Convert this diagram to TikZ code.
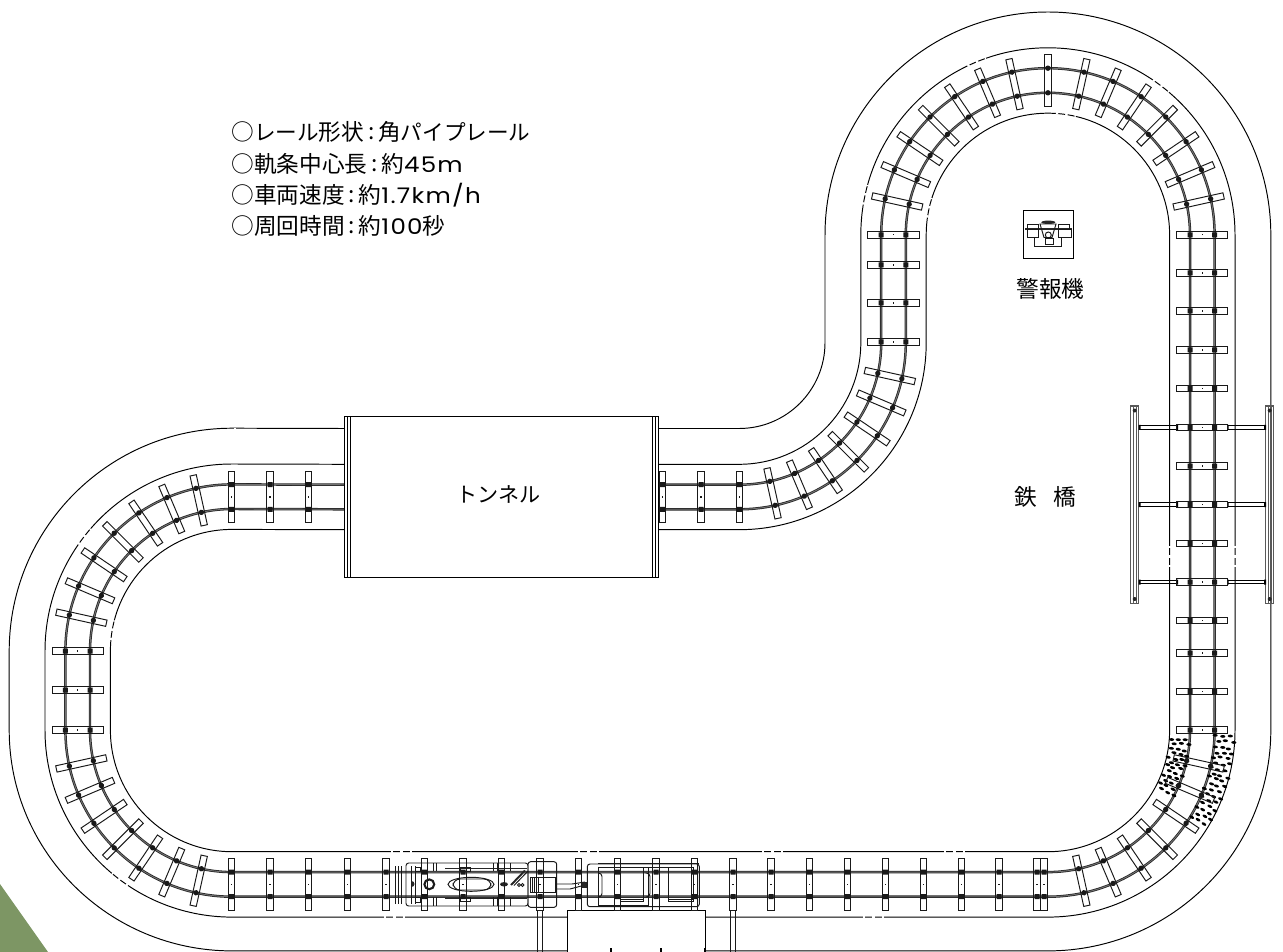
\documentclass[tikz,border=0pt]{standalone}
\usepackage{fontspec}
\setmainfont{Noto Sans CJK JP}
\newfontfamily\latinfont[FakeStretch=1.14,LetterSpace=6,Scale=.95]{Poppins}
\tikzset{
  bedline/.style={draw=black,line width=.55pt},
  railline/.style={draw=black!85,line width=.45pt,double=black!55,double distance=.5pt},
  tiebox/.style={draw=black!90,line width=.55pt},
  pinmark/.style={fill=black!90},
  gapline/.style={draw=white,line width=1.4pt,dash pattern=on 1.3pt off 4pt on 1.4pt off 4pt on 1.3pt},
  carline/.style={draw=black!90,line width=.55pt},
  carheavy/.style={draw=black!85,line width=1.1pt},
  beamline/.style={draw=black,line width=.55pt},
  postline/.style={draw=black!65,line width=.8pt},
  labeltext/.style={font=\fontsize{12.9pt}{15pt}\selectfont,inner sep=0pt}
}
\newcommand\kanatext[1]{{\fontsize{12.3pt}{15pt}\selectfont #1}}
\newcommand\specsep{\makebox[8pt]{\raisebox{.5pt}{:}}}
\newcommand\trackloop[3]{
  \draw[#1] (658,{497-(#2)}) -- (739.1,{497-(#2)})
    arc [start angle=90,end angle=0,radius={154.4-(#2)}]
    -- ({893.5-(#2)},234.9)
    arc [start angle=180,end angle=360,radius={154.4+(#2)}]
    -- ({1202.3+(#2)},730)
    arc [start angle=0,end angle=90,x radius={154.4+(#2)},y radius={154.4+(#3)}]
    -- (232.1,{884.4+(#3)})
    arc [start angle=90,end angle=180,x radius={154.4+(#2)},y radius={154.4+(#3)}]
    -- ({77.7-(#2)},651.1)
    arc [start angle=180,end angle=270,radius={154.4+(#2)}]
    -- (345,{497-(#2)});
}
\newcommand\tiemark[3]{
  \begin{scope}[shift={(#1,#2)},rotate=#3]
    \draw[tiebox] (-25.6,-3.2) rectangle (25.6,3.2);
    \fill[pinmark] (-14.8,-2.5) rectangle (-9.8,2.5) (9.8,-2.5) rectangle (14.8,2.5);
    \fill[pinmark] (-.6,-.6) rectangle (.6,.6);
  \end{scope}
}
\newcommand\arctie[3]{
  \begin{scope}[shift={(#1,#2)},rotate=#3]
    \draw[tiebox] (128.8,-3.2) rectangle (180,3.2);
    \fill[pinmark] (142.1,0) circle [radius=2.7] (166.7,0) circle [radius=2.7];
  \end{scope}
}
\newcommand\bedgap[4]{
  \draw[gapline,shift={(#1,#2)},rotate=#4] (#3,-10) -- (#3,10);
}
\begin{document}
\begin{tikzpicture}[x=.02cm,y=.02cm,yscale=-1]
  \useasboundingbox (0,0) rectangle (1283,952);
  \fill[fill={rgb,255:red,125;green,150;blue,100}] (0,884) -- (48,952) -- (0,952) -- cycle;

  \trackloop{bedline}{68.5}{66.5}
  \trackloop{bedline}{32.7}{32.7}
  \trackloop{bedline}{-32.7}{-32.7}
  \trackloop{railline}{12.3}{12.3}
  \trackloop{railline}{-12.3}{-12.3}

  \bedgap{1047.9}{234.9}{187.1}{247.6}
  \bedgap{1047.9}{234.9}{187.1}{307.2}
  \bedgap{1047.9}{234.9}{187.1}{192.4}
  \bedgap{1047.9}{234.9}{121.7}{278.5}
  \bedgap{1047.9}{234.9}{121.7}{192.9}
  \bedgap{232.1}{730}{187.1}{126.9}
  \bedgap{232.1}{651.1}{187.1}{217.8}
  \bedgap{232.1}{651.1}{121.7}{189.9}
  \draw[gapline] (1169.6,546) -- (1169.6,569);
  \draw[gapline] (1235,546) -- (1235,569);
  \draw[gapline] (762,851.7) -- (785,851.7);
  \draw[gapline] (944,851.7) -- (967,851.7);
  \draw[gapline] (863,917.1) -- (886,917.1);
  \draw[gapline] (391,851.7) -- (414,851.7);
  \draw[gapline] (578,851.7) -- (601,851.7);
  \draw[gapline] (384,917.1) -- (407,917.1);
  \draw[draw=white,line width=1pt] (234,428.5) -- (236,428.5);

  \pgfmathsetseed{11}
  \foreach \a in {0,...,11} {
    \foreach \r in {126,133,140} {
      \pgfmathsetmacro\da{4+2.1*\a+.6*rand}
      \pgfmathsetmacro\dr{\r+3.5*mod(\a,2)-2+rand}
      \fill[black,shift={(1047.9,730)},rotate=\da] (\dr,0) ellipse [x radius=2.6,y radius=1.4];
    }
  }
  \foreach \a in {0,...,16} {
    \foreach \r in {170,177,184} {
      \pgfmathsetmacro\da{2+1.8*\a+.5*rand}
      \pgfmathsetmacro\dr{\r+3.5*mod(\a,2)-2+rand}
      \fill[black,shift={(1047.9,730)},rotate=\da] (\dr,0) ellipse [x radius=2.6,y radius=1.4];
    }
  }

  \draw[postline] (1130.7,406) rectangle (1138.7,603.3) (1133.2,406) -- (1133.2,603.3) (1136.2,406) -- (1136.2,603.3);
  \draw[postline] (1265.7,406) rectangle (1273.7,603.3) (1268.2,406) -- (1268.2,603.3) (1271.2,406) -- (1271.2,603.3);
  \foreach \by in {410.5,599} {
    \fill[black!85] (1134.7,\by) circle [radius=2];
    \fill[black!85] (1269.7,\by) circle [radius=2];
  }
  \foreach \by in {427.3,504.7,582} {
    \draw[beamline] (1138.7,\by-1.8) -- (1176.7,\by-1.8) (1138.7,\by+1.8) -- (1176.7,\by+1.8);
    \draw[beamline] (1228,\by-1.8) -- (1266,\by-1.8) (1228,\by+1.8) -- (1266,\by+1.8);
    \fill[black] (1138.7,\by-2.5) rectangle (1140.7,\by+2.5) (1264,\by-2.5) rectangle (1266,\by+2.5);
    \fill[black] (1176.5,\by-2.5) rectangle (1178,\by+2.5) (1227,\by-2.5) rectangle (1228.5,\by+2.5);
  }

  \draw[carline] (395.7,866) -- (395.7,904) (398,866) -- (398,904) (401,866) -- (401,904);
  \draw[carline,rounded corners=1.5] (406,863) rectangle (528,906);
  \draw[carline] (411,866) -- (411,904) (415,866) -- (415,904) (415,867) rectangle (420,871) (415,897) rectangle (420,902);
  \fill[black!85] (411.5,881) arc [start angle=270,end angle=450,radius=3];
  \draw[carline] (433,863) -- (433,871) (436,863) -- (436,871) (433,897) -- (433,906) (436,897) -- (436,906);
  \draw[carline] (429.3,884.3) circle [radius=5.5] (429.3,884.3) circle [radius=4.3];
  \draw[carline] (471,884.3) ellipse [x radius=23,y radius=7];
  \draw[carline,rounded corners=4] (453,879) rectangle (491,890);
  \draw[carheavy] (445,868.5) -- (527,868.5) (445,898.5) -- (527,898.5);
  \draw[carline] (460,867) rectangle (470,871) (460,897) rectangle (470,901);
  \draw[carline] (493,863) -- (493,871) (497,863) -- (497,871) (510,863) -- (510,871) (493,897) -- (493,906) (497,897) -- (497,906) (510,897) -- (510,906);
  \fill[black!85] (504,884.3) ellipse [x radius=4,y radius=2.2];
  \draw[carheavy] (511,885) -- (525,870.5);
  \draw[carline] (514,885.5) -- (528,871);
  \draw[carline] (519,885) circle [radius=1.5] (522.5,885) circle [radius=1.5];
  \draw[carline,rounded corners=1.5] (528,861.7) rectangle (556.7,907.3);
  \draw[carline] (530,877) rectangle (555,892);
  \foreach \hx in {532,534,536,538}
    \draw[carline] (\hx,877) -- (\hx,892);
  \draw[carline] (556.7,884) -- (572,884) -- (585,882) (556.7,889) -- (570,889) -- (585,885);
  \fill[black!85] (582,882) rectangle (587,888);
  \draw[carline,rounded corners=1.5] (587.3,864) rectangle (699.3,906.7);
  \draw[carline] (598,863.5) -- (699,863.5) (598,867.7) rectangle (648,905);
  \draw[carline] (620,867.7) rectangle (643,901.7) (620,899) -- (643,899);
  \draw[carline] (648,867.7) -- (693,867.7) (668,867.7) rectangle (693,901.7) (668,899) -- (693,899);
  \draw[carline,rounded corners=2] (598,873) -- (602,873) -- (602,897) -- (598,897);
  \draw[carline,rounded corners=2] (647,873) -- (650,873) -- (650,897) -- (647,897);

  \foreach \bx in {537.3,542,730.7,735}
    \draw[carline] (\bx,910) -- (\bx,952);
  \draw[bedline,fill=white] (567.3,952) -- (567.3,910) -- (705,910) -- (705,952);
  \foreach \bx in {567.3,611,661,705}
    \draw[draw=black,line width=.8pt] (\bx,948) -- (\bx,952);

  \foreach \tx in {231.7,270,308.7,347.3,386,424.3,463,501.7,540,578.7,617.3,656,694.3,733,771,809.7,847.5,885.5,923.7,961.5,999,1037,1044} {
    \tiemark{\tx}{884.4}{90}
  }
  \foreach \tx in {231.7,270,308.7,662.3,701,739.7} {
    \tiemark{\tx}{497}{90}
  }
  \foreach \ty in {234.9,273,311,350,388.5,427.3,466,504.7,543.3,582,620.5,653,691.5,730} {
    \tiemark{1202.3}{\ty}{0}
  }
  \foreach \ty in {234.9,265,303,342} {
    \tiemark{893.5}{\ty}{0}
  }
  \foreach \ty in {651,690,730} {
    \tiemark{77.7}{\ty}{0}
  }
  \arctie{1047.9}{234.9}{270}
  \foreach \a in {12.5,23,34,45,56,67,77.5} {
    \arctie{1047.9}{234.9}{180+\a}
    \arctie{1047.9}{234.9}{270+\a}
    \arctie{1047.9}{730}{\a}
    \arctie{232.1}{730}{90+\a}
    \arctie{232.1}{651.1}{180+\a}
    \arctie{739.1}{342.6}{\a}
  }

  \draw[bedline,fill=white] (344.3,416) rectangle (658.7,577.7);
  \draw[bedline] (347,416) -- (347,577.7) (350,416) -- (350,577.7)
    (652.7,416) -- (652.7,577.7) (655.7,416) -- (655.7,577.7);
  \node (tunnel) [labeltext] at (498.5,494) {\fontsize{12pt}{15pt}\selectfont トンネル};

  \draw[bedline] (1023.3,210) rectangle (1073.3,258.3);
  \draw[carheavy] (1025,229.3) -- (1072,229.3);
  \draw[carline] (1027.5,224.5) rectangle (1038.5,229.3) (1058.5,224.5) rectangle (1069,229.3);
  \draw[carline] (1027,229.3) rectangle (1038.5,237.5) (1058.5,229.3) rectangle (1071,237.5);
  \draw[carline] (1040,224) -- (1056,224) -- (1052,237.5) -- (1044,237.5) -- cycle;
  \draw[carline] (1048.3,235) circle [radius=3];
  \fill[black!85] (1048.3,222.3) ellipse [x radius=7,y radius=1.7];
  \draw[carline] (1034.3,237.5) -- (1034.3,246) -- (1061.7,246) -- (1061.7,237.5);
  \draw[carline] (1045,238.3) rectangle (1053.3,244.3);
  \node (alarm) [labeltext] at (1050.5,289) {警報機};
  \node (bridge) [labeltext] at (1045.5,497) {鉄\hspace{.75em}橋};

  \node (spec1) [labeltext,right] at (231,132) {○\kanatext{レール}形状\specsep 角\kanatext{パイプレール}};
  \node (spec2) [labeltext,right] at (231,164) {○軌条中心長\specsep 約{\latinfont 45m}};
  \node (spec3) [labeltext,right] at (231,195) {○車両速度\specsep 約{\latinfont 1.7km/h}};
  \node (spec4) [labeltext,right] at (231,226) {○周回時間\specsep 約{\latinfont 100}秒};
\end{tikzpicture}
\end{document}
